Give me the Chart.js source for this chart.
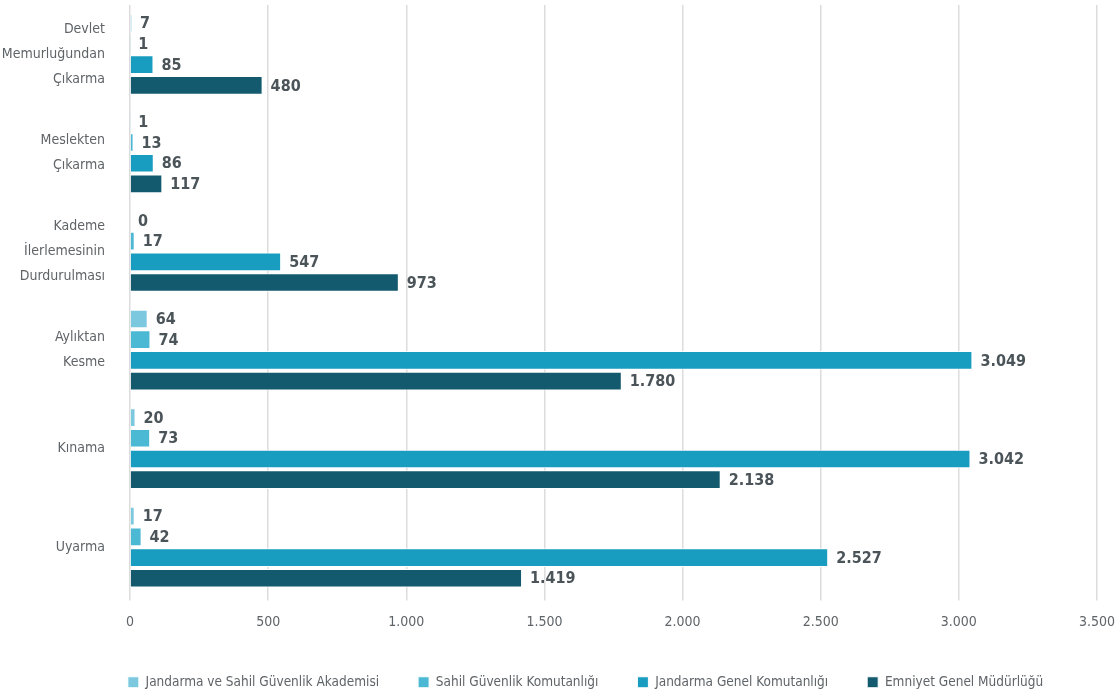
<!DOCTYPE html>
<html lang="tr">
<head>
    <meta charset="UTF-8">
    <title>Disiplin Cezaları</title>
    <script src="https://cdn.jsdelivr.net/npm/chart.js"></script>
    <style>
        html, body { margin: 0; padding: 0; background: #fff; }
        #wrap { width: 1117px; height: 697px; }
    </style>
</head>
<body>
    <div id="wrap"><canvas id="cezaChart"></canvas></div>

    <script>
        const FONT = '"Liberation Sans Narrow", "DejaVu Sans Condensed", "Roboto Condensed", "Liberation Sans", sans-serif';

        const categories = [
            ['Devlet', 'Memurluğundan', 'Çıkarma'],
            ['Meslekten', 'Çıkarma'],
            ['Kademe', 'İlerlemesinin', 'Durdurulması'],
            ['Aylıktan', 'Kesme'],
            'Kınama',
            'Uyarma'
        ];
        const akademi = [7, 1, 0, 64, 20, 17];
        const sahil = [1, 13, 17, 74, 73, 42];
        const jandarma = [85, 86, 547, 3049, 3042, 2527];
        const emniyet = [480, 117, 973, 1780, 2138, 1419];
        const xTicks = [0, 500, 1000, 1500, 2000, 2500, 3000, 3500];

        const fmt = v => v.toLocaleString('tr-TR');

        // draws the value after every bar
        const valueLabels = {
            id: 'valueLabels',
            afterDatasetsDraw(chart) {
                const ctx = chart.ctx;
                ctx.save();
                ctx.font = 'bold 16px ' + FONT;
                ctx.fillStyle = '#4b5459';
                ctx.textBaseline = 'middle';
                ctx.textAlign = 'left';
                chart.data.datasets.forEach((ds, i) => {
                    chart.getDatasetMeta(i).data.forEach((bar, j) => {
                        ctx.fillText(fmt(ds.data[j]), bar.x + 8, bar.y + 1);
                    });
                });
                ctx.restore();
            }
        };

        // nudge the legend row to where the original has it
        const legendShift = {
            id: 'legendShift',
            afterLayout(chart) {
                const lg = chart.legend;
                lg.left += 37;
                lg.right += 37;
                lg.top -= 7;
                lg.bottom -= 7;
            }
        };

        new Chart(document.getElementById('cezaChart').getContext('2d'), {
            type: 'bar',
            data: {
                labels: categories,
                datasets: [
                    { label: 'Jandarma ve Sahil Güvenlik Akademisi', data: akademi, backgroundColor: '#7cc8df' },
                    { label: 'Sahil Güvenlik Komutanlığı', data: sahil, backgroundColor: '#4bb8d4' },
                    { label: 'Jandarma Genel Komutanlığı', data: jandarma, backgroundColor: '#189dc1' },
                    { label: 'Emniyet Genel Müdürlüğü', data: emniyet, backgroundColor: '#135a6e' }
                ]
            },
            options: {
                indexAxis: 'y',
                responsive: true,
                maintainAspectRatio: false,
                animation: false,
                layout: { padding: { top: 5, right: 20, left: 0, bottom: -9 } },
                datasets: {
                    bar: {
                        categoryPercentage: 0.84,
                        barPercentage: 0.9,
                        borderColor: '#ffffff',
                        borderWidth: 1
                    }
                },
                scales: {
                    x: {
                        min: 0,
                        max: 3500,
                        afterBuildTicks: scale => { scale.ticks = xTicks.map(v => ({ value: v })); },
                        afterFit: scale => { scale.paddingRight = 0; },
                        grid: { color: '#dcdcdc', lineWidth: 1.5, drawTicks: true, tickLength: 4 },
                        border: { display: false },
                        ticks: {
                            color: '#5f6468',
                            font: { family: FONT, size: 14, lineHeight: 1 },
                            padding: 14.5,
                            maxRotation: 0,
                            callback: v => fmt(v)
                        }
                    },
                    y: {
                        grid: { display: false },
                        border: { display: false },
                        afterFit: scale => {
                            scale.width = 130;
                            scale.paddingTop = 0;
                            scale.paddingBottom = 0;
                        },
                        ticks: {
                            color: '#5f6468',
                            font: { family: FONT, size: 14, lineHeight: 1.8 },
                            padding: 17
                        }
                    }
                },
                plugins: {
                    legend: {
                        position: 'bottom',
                        labels: {
                            boxWidth: 11,
                            boxHeight: 11,
                            padding: 39,
                            color: '#5f6468',
                            font: { family: FONT, size: 13.5 }
                        }
                    },
                    tooltip: { enabled: false }
                }
            },
            plugins: [valueLabels, legendShift]
        });
    </script>
</body>
</html>
